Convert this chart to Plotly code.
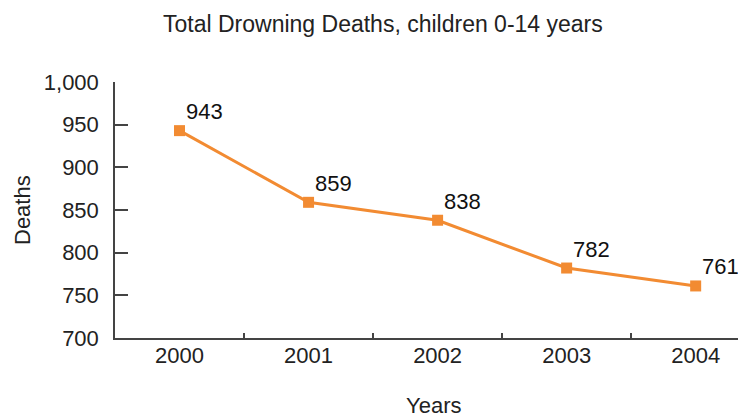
import plotly.graph_objects as go

years = ["2000", "2001", "2002", "2003", "2004"]
deaths = [943, 859, 838, 782, 761]
y_ticks = [700, 750, 800, 850, 900, 950, 1000]
y_tick_labels = ["700", "750", "800", "850", "900", "950", "1,000"]

orange = "#F28B32"
axis_col = "#444444"
text_col = "#222222"
font_fam = "Liberation Sans, Arial, sans-serif"

# page body has an 8px margin; figure sized to fill the rest of the 746x417 window
W, H = 738, 409
L, T, B = 107, 74, 79

fig = go.Figure()
fig.add_trace(go.Scatter(
    x=years, y=deaths, mode="lines+markers",
    line=dict(color=orange, width=3),
    marker=dict(symbol="square", size=11, color=orange),
    hoverinfo="skip", showlegend=False,
))

for i, yv in enumerate(deaths):
    fig.add_annotation(x=i, y=yv, xref="x", yref="y", text=str(yv), showarrow=False,
                       xanchor="left", yanchor="middle", xshift=4, yshift=19,
                       font=dict(family=font_fam, size=22, color="#111111"))

# axis titles
fig.add_annotation(x=0.504, y=0, xref="paper", yref="paper", text="Years", showarrow=False,
                   xanchor="center", yanchor="middle", yshift=-67,
                   font=dict(family=font_fam, size=22, color=text_col))
fig.add_annotation(x=0, y=0.5, xref="paper", yref="paper", text="Deaths", showarrow=False,
                   textangle=-90, xanchor="center", yanchor="middle", xshift=-93,
                   font=dict(family=font_fam, size=22, color=text_col))

fig.update_layout(
    width=W, height=H,
    margin=dict(l=L, r=0, t=T, b=B),
    paper_bgcolor="white", plot_bgcolor="white",
    font=dict(family=font_fam, color=text_col),
    title=dict(text="Total Drowning Deaths, children 0-14 years",
               xref="container", x=0.508, xanchor="center",
               yref="container", y=0.962, yanchor="middle",
               font=dict(family=font_fam, size=23, color=text_col)),
)
fig.update_xaxes(
    type="category", range=[-0.5, 4.39],
    showline=True, linecolor=axis_col, linewidth=1.5,
    ticks="inside", tickson="boundaries", ticklen=5, tickcolor=axis_col, tickwidth=1.5,
    showgrid=False, zeroline=False,
    ticklabelstandoff=-3,
    tickfont=dict(size=22, color=text_col),
)
fig.update_yaxes(
    range=[700, 1000], tickvals=y_ticks, ticktext=y_tick_labels,
    showline=True, linecolor=axis_col, linewidth=1.5,
    ticks="inside", ticklen=13, tickcolor=axis_col, tickwidth=1.5,
    showgrid=False, zeroline=False,
    ticklabelstandoff=10,
    tickfont=dict(size=22, color=text_col),
)

fig.write_html("out.html")
